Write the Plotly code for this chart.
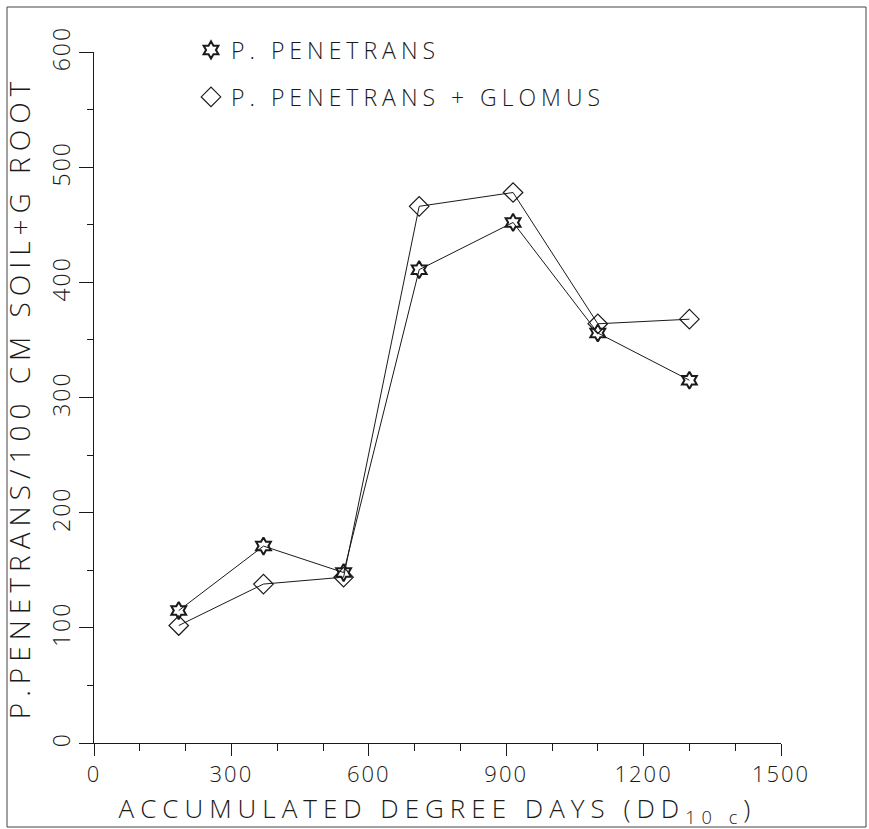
import plotly.graph_objects as go

# Data
degree_days = [185, 370, 545, 710, 915, 1100, 1300]
p_penetrans = [115, 171, 148, 411, 452, 356, 315]
p_penetrans_glomus = [102, 138, 144, 466, 478, 364, 368]

x_ticks = [0, 300, 600, 900, 1200, 1500]
y_ticks = [0, 100, 200, 300, 400, 500, 600]

FONT = "Open Sans"
WEIGHT = 300
INK = "#1a1a1a"

W, H = 869, 829
L, R, T, B = 94, 88, 52, 86
pw, ph = W - L - R, H - T - B

def px_x(p):
    return (p - L) / pw

def px_y(p):
    return (H - B - p) / ph

def spaced(txt, px):
    return f'<span style="letter-spacing:{px}px">{txt}</span>'

fig = go.Figure()

fig.add_trace(go.Scatter(
    x=degree_days, y=p_penetrans, mode="lines+markers",
    line=dict(color=INK, width=1),
    marker=dict(symbol="hexagram-open", size=13, color=INK, line=dict(width=2, color=INK)),
    showlegend=False,
))
fig.add_trace(go.Scatter(
    x=degree_days, y=p_penetrans_glomus, mode="lines+markers",
    line=dict(color=INK, width=1),
    marker=dict(symbol="diamond-open", size=15, color=INK, line=dict(width=1.2, color=INK)),
    showlegend=False,
))

# legend entries (marker only)
fig.add_trace(go.Scatter(
    x=[None], y=[None], mode="markers", name=spaced("P. PENETRANS", 5),
    marker=dict(symbol="hexagram-open", size=13, color=INK, line=dict(width=2, color=INK)),
    legend="legend",
))
fig.add_trace(go.Scatter(
    x=[None], y=[None], mode="markers", name=spaced("P. PENETRANS + GLOMUS", 5),
    marker=dict(symbol="diamond-open", size=15, color=INK, line=dict(width=1.2, color=INK)),
    legend="legend2",
))

leg_common = dict(
    font=dict(family=FONT, size=23, color=INK, weight=WEIGHT),
    bgcolor="rgba(0,0,0,0)", borderwidth=0,
    xanchor="left", yanchor="middle",
)

fig.update_layout(
    width=W, height=H,
    margin=dict(l=L, r=R, t=T, b=B, autoexpand=False),
    paper_bgcolor="white", plot_bgcolor="white",
    font=dict(family=FONT, color=INK, weight=WEIGHT),
    legend=dict(x=px_x(191), y=px_y(50), **leg_common),
    legend2=dict(x=px_x(191), y=px_y(97), **leg_common),
    xaxis=dict(
        range=[0, 1500], tickvals=x_ticks, ticktext=[spaced(str(v), 2) for v in x_ticks],
        automargin=True,
        showgrid=False, zeroline=False, showline=True, linecolor=INK, linewidth=1,
        ticks="outside", ticklen=12, tickwidth=1, tickcolor=INK,
        minor=dict(dtick=100, ticks="outside", ticklen=7, tickcolor=INK, showgrid=False),
        tickfont=dict(family=FONT, size=22, color=INK, weight=WEIGHT),
        ticklabelstandoff=0,
        title=dict(text=spaced("ACCUMULATED DEGREE DAYS (DD<sub>10 c</sub>)", 6),
                   font=dict(family=FONT, size=26, color=INK, weight=WEIGHT), standoff=12),
    ),
    yaxis=dict(
        range=[0, 600], tickvals=y_ticks, ticktext=[spaced(str(v), 2) for v in y_ticks],
        automargin=True,
        showgrid=False, zeroline=False, showline=True, linecolor=INK, linewidth=1,
        ticks="outside", ticklen=14, tickwidth=1, tickcolor=INK,
        minor=dict(dtick=50, ticks="outside", ticklen=6, tickcolor=INK, showgrid=False),
        tickangle=-90,
        tickfont=dict(family=FONT, size=23, color=INK, weight=WEIGHT),
        ticklabelstandoff=0,
        title=dict(text=spaced("P.PENETRANS/100 CM SOIL+G ROOT", 6),
                   font=dict(family=FONT, size=28, color=INK, weight=WEIGHT), standoff=10),
    ),
    shapes=[dict(
        type="rect", xref="paper", yref="paper",
        x0=px_x(7), x1=px_x(866), y0=px_y(827), y1=px_y(7),
        line=dict(color="#444", width=1), fillcolor="rgba(0,0,0,0)", layer="below",
    )],
)

fig.write_html("out.html")
